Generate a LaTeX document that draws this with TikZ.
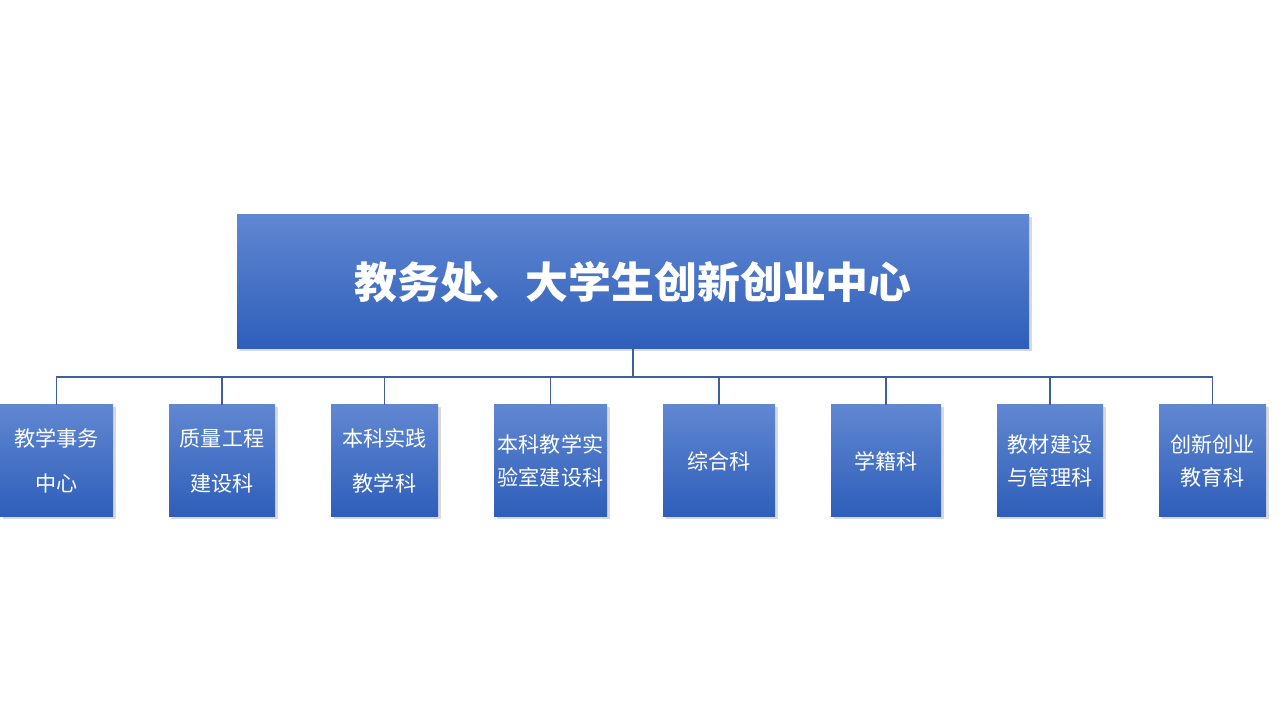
\documentclass[tikz,border=0pt]{standalone}
\usepackage{fontspec}
\setmainfont{Noto Sans CJK SC}
\usepackage{xcolor}
\usetikzlibrary{shadows}
\definecolor{boxtop}{HTML}{6087D1}
\definecolor{boxbot}{HTML}{2E5EBA}
\definecolor{linkc}{HTML}{3F5E9E}

\begin{document}
\begin{tikzpicture}[x=1cm, y=1cm,
 box/.style={draw=none, top color=boxtop, bottom color=boxbot, text=white,
   drop shadow={shadow xshift=0.5mm, shadow yshift=-0.5mm, opacity=0.3},
   align=center, inner sep=0pt},
 head/.style={box, minimum width=15.84cm, minimum height=2.68cm,
   font=\fontsize{24.4pt}{29pt}\selectfont\bfseries},
 dept/.style={box, minimum height=2.24cm, font=\fontsize{12pt}{18.8pt}\selectfont},
 wide/.style={font=\fontsize{12pt}{26pt}\selectfont},
 link/.style={draw=linkc, line width=0.6pt}]
\useasboundingbox (0,0) rectangle (25.6,14.4);
\node[head] (top) at (12.66,8.76) {教务处、大学生创新创业中心};
\coordinate (bus) at (12.66,6.86);
\node[dept, wide, minimum width=2.26cm] (d1) at (1.13,5.18) {教学事务\\中心};
\node[dept, wide, minimum width=2.12cm] (d2) at (4.44,5.18) {质量工程\\建设科};
\node[dept, wide, minimum width=2.14cm] (d3) at (7.69,5.18) {本科实践\\教学科};
\node[dept, minimum width=2.26cm] (d4) at (11.01,5.18) {本科教学实\\验室建设科};
\node[dept, minimum width=2.24cm] (d5) at (14.38,5.18) {综合科};
\node[dept, minimum width=2.20cm] (d6) at (17.72,5.18) {学籍科};
\node[dept, minimum width=2.12cm] (d7) at (21.00,5.18) {教材建设\\与管理科};
\node[dept, minimum width=2.14cm] (d8) at (24.25,5.18) {创新创业\\教育科};
\draw[link, line width=1pt] (top.south) -- (bus);
\foreach \i in {1,...,8}
  \draw[link] (bus) -| (d\i.north);
\end{tikzpicture}
\end{document}
